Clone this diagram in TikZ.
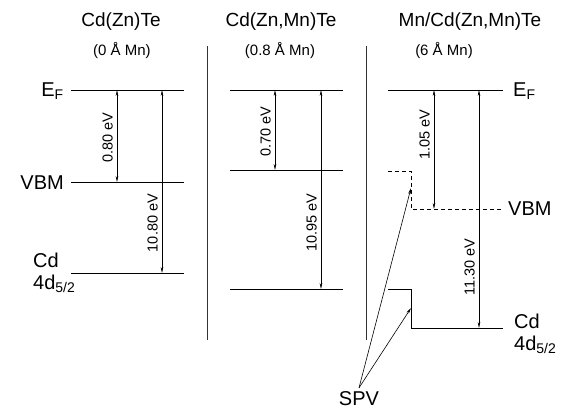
\documentclass[tikz,border=0pt]{standalone}
\usepackage{fontspec}
\setmainfont{Liberation Sans}
\usetikzlibrary{arrows.meta,positioning}

\begin{document}
\begin{tikzpicture}[x=1pt, y=-1pt,
    level/.style={line width=0.8pt},
    dashlevel/.style={line width=0.8pt, dash pattern=on 4pt off 3pt},
    divider/.style={line width=0.9pt, black!80},
    gap/.style={{Stealth[length=6pt,width=2.6pt]}-{Stealth[length=6pt,width=2.6pt]}, line width=0.6pt},
    ptr/.style={-{Stealth[length=6pt,width=2.6pt]}, line width=0.6pt},
    title/.style={font=\fontsize{19}{21}\selectfont},
    sub/.style={font=\fontsize{15}{17}\selectfont},
    tag/.style={font=\fontsize{20}{22}\selectfont, inner sep=1pt},
    ev/.style={font=\fontsize{14.5}{16}\selectfont, rotate=90, anchor=south, inner sep=4pt}
]
    \useasboundingbox (0,0) rectangle (567,408);

    % titles
    \node[title] (t1) at (121,22) {Cd(Zn)Te};
    \node[title] (t2) at (281,22) {Cd(Zn,Mn)Te};
    \node[title] (t3) at (470,22) {Mn/Cd(Zn,Mn)Te};
    \node[sub] (s1) at (122,51) {(0 Å Mn)};
    \node[sub] (s2) at (280,51) {(0.8 Å Mn)};
    \node[sub] (s3) at (444,51) {(6 Å Mn)};

    % dividers
    \foreach \x in {207.5,366} \draw[divider] (\x,46) -- (\x,340);

    % levels
    \foreach \y in {90,182,273} \draw[level] (71,\y) -- (184,\y);
    \foreach \y in {90,170,289} \draw[level] (230,\y) -- (343,\y);
    \draw[level] (388,90) -- (503,90);
    \draw[dashlevel] (388,171) -- (411,171) -- (411,209) -- (503,209);
    \draw[level] (388,289) -- (411,289) -- (411,328) -- (503,328);

    % level labels
    \node[tag, anchor=base east] (ef1) at (65,96) {E\textsubscript{F}};
    \node[tag, anchor=base east] (vbm1) at (65,189) {VBM};
    \node[tag, anchor=base west] (cd1) at (32,267) {Cd};
    \node[tag, anchor=base west] (dd1) at (32,289) {4d\textsubscript{5/2}};
    \node[tag, anchor=base west] (ef3) at (512,96) {E\textsubscript{F}};
    \node[tag, anchor=base west] (vbm3) at (507,215) {VBM};
    \node[tag, anchor=base west] (cd3) at (513,328) {Cd};
    \node[tag, anchor=base west] (dd3) at (513,350) {4d\textsubscript{5/2}};

    % gap ends
    \coordinate (a1) at (117,90);  \coordinate (b1) at (117,182);
    \coordinate (c1) at (162,90);  \coordinate (d1) at (162,273);
    \coordinate (a2) at (275,90);  \coordinate (b2) at (275,170);
    \coordinate (c2) at (321,90);  \coordinate (d2) at (321,289);
    \coordinate (a3) at (434,90);  \coordinate (b3) at (434,209);
    \coordinate (c3) at (479,90);  \coordinate (d3) at (479,328);

    \draw[gap] (a1) -- (b1) node[ev, pos=0.52] {0.80 eV};
    \draw[gap] (c1) -- (d1) node[ev, pos=0.727] {10.80 eV};
    \draw[gap] (a2) -- (b2) node[ev, pos=0.52] {0.70 eV};
    \draw[gap] (c2) -- (d2) node[ev, pos=0.668] {10.95 eV};
    \draw[gap] (a3) -- (b3) node[ev, pos=0.378] {1.05 eV};
    \draw[gap] (c3) -- (d3) node[ev, pos=0.744] {11.30 eV};

    % surface photovoltage
    \node[tag, anchor=base, inner sep=3pt] (spv) at (359,405) {SPV};
    \coordinate (step1) at (411,188);
    \coordinate (step2) at (411,308);
    \draw[ptr] (spv.north) -- (step1);
    \draw[ptr] (spv.north) -- (step2);
\end{tikzpicture}
\end{document}
